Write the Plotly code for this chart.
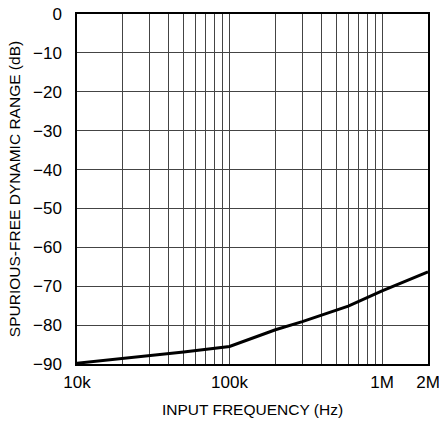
import math
import plotly.graph_objects as go

freq_hz = [1e4, 2e4, 5e4, 1e5, 2e5, 3e5, 4e5, 6e5, 1e6, 2e6]
sfdr_db = [-89.8, -88.6, -86.9, -85.5, -81.2, -79.1, -77.4, -75.1, -71.2, -66.3]

x_grid = [1e4, 2e4, 3e4, 4e4, 5e4, 6e4, 7e4, 8e4, 9e4,
          1e5, 2e5, 3e5, 4e5, 5e5, 6e5, 7e5, 8e5, 9e5, 1e6, 2e6]
x_labels = {1e4: "10k", 1e5: "100k", 1e6: "1M", 2e6: "2M"}
y_ticks = [0, -10, -20, -30, -40, -50, -60, -70, -80, -90]

FONT = "Liberation Sans Narrow, Liberation Sans, Arial, sans-serif"

fig = go.Figure()
fig.add_trace(go.Scatter(x=freq_hz, y=sfdr_db, mode="lines",
                         line=dict(color="black", width=3), showlegend=False,
                         cliponaxis=False, hoverinfo="skip"))

fig.update_layout(
    width=439, height=423,
    margin=dict(l=77, r=11, t=14, b=59),
    paper_bgcolor="white", plot_bgcolor="white",
    font=dict(family=FONT, size=16, color="black"),
    xaxis=dict(
        type="log", range=[4, math.log10(2e6) + 1e-6],
        tickvals=x_grid, ticktext=[x_labels.get(v, "") for v in x_grid],
        showgrid=True, gridcolor="#444", gridwidth=1,
        showline=True, linecolor="black", linewidth=1.5, mirror=True,
        ticks="", zeroline=False, automargin=False,
        tickfont=dict(size=17), ticklabelstandoff=2, ticklabeloverflow="allow",
        title=dict(text="INPUT FREQUENCY (Hz)", standoff=13, font=dict(size=15.5)),
    ),
    yaxis=dict(
        range=[-90, 0], tickvals=y_ticks,
        showgrid=True, gridcolor="#444", gridwidth=1,
        showline=True, linecolor="black", linewidth=1.5, mirror=True,
        ticks="", zeroline=False, automargin=False,
        tickfont=dict(size=17), ticklabelstandoff=10, ticklabeloverflow="allow",
        title=dict(text="SPURIOUS-FREE DYNAMIC RANGE (dB)", standoff=9, font=dict(size=15.5)),
    ),
)

fig.write_html("out.html", config={"displayModeBar": False},
               post_script="document.body.style.margin='0';document.body.style.overflow='hidden';")
